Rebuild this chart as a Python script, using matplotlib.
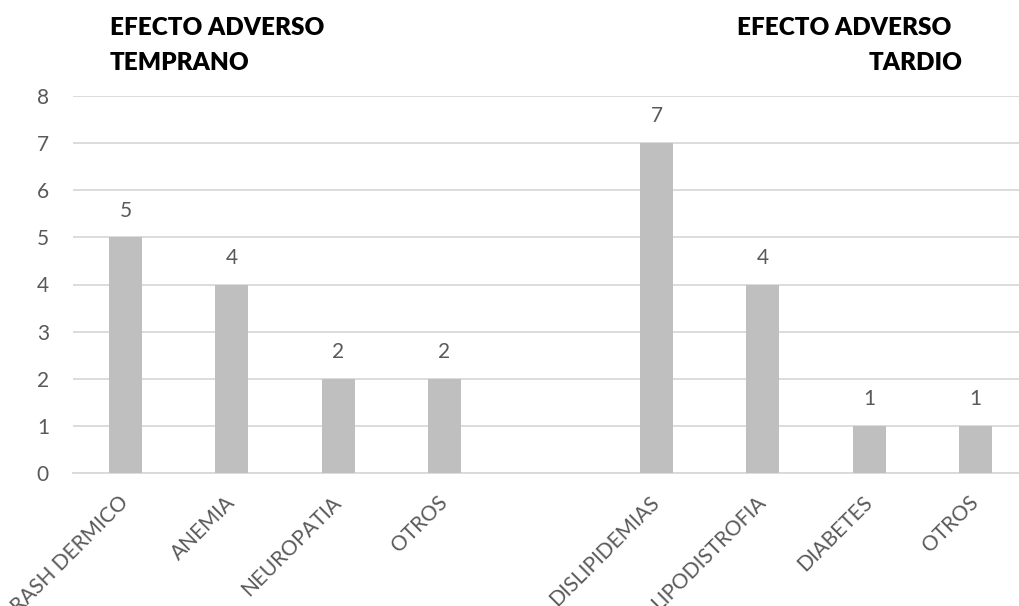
import matplotlib.pyplot as plt
import numpy as np

plt.rcParams['font.family'] = ['Lato', 'DejaVu Sans']

temprano_labels = ["RASH DERMICO", "ANEMIA", "NEUROPATIA", "OTROS"]
temprano_values = [5, 4, 2, 2]
tardio_labels = ["DISLIPIDEMIAS", "LIPODISTROFIA", "DIABETES", "OTROS"]
tardio_values = [7, 4, 1, 1]

bar_color = "#BFBFBF"
grid_color = "#D9D9D9"
text_color = "#595959"

# one empty slot between the two groups
x_temp = np.arange(len(temprano_values))
x_tard = np.arange(len(tardio_values)) + len(temprano_values) + 1
x_all = np.r_[x_temp, x_tard]
labels_all = temprano_labels + tardio_labels
values_all = temprano_values + tardio_values

fig = plt.figure(figsize=(10.19, 6.06), dpi=100)
ax = fig.add_axes([72.6 / 1019, 1 - 473 / 606, 955.8 / 1019, (473 - 96) / 606])

ax.bar(x_all, values_all, width=0.31, color=bar_color, zorder=3)
for x, v in zip(x_all, values_all):
    ax.annotate(str(v), (x, v), xytext=(0, 12), textcoords="offset points",
                ha="center", va="bottom", fontsize=15, color=text_color)

ax.set_xlim(-0.5, x_all[-1] + 0.5)
ax.set_ylim(0, 8)
ax.set_yticks(range(0, 9))
ax.yaxis.grid(True, color=grid_color, linewidth=1.3, zorder=0)
ax.set_axisbelow(True)
for s in ["left", "right", "top"]:
    ax.spines[s].set_visible(False)
ax.spines["bottom"].set_color(grid_color)
ax.spines["bottom"].set_linewidth(1.3)
ax.tick_params(axis="both", length=0, labelsize=15, labelcolor=text_color)
ax.tick_params(axis="y", pad=17)
ax.set_xticks(x_all)
ax.set_xticklabels(labels_all, rotation=45, ha="right", va="center",
                   rotation_mode="anchor")
ax.tick_params(axis="x", pad=19)

title_kw = dict(fontsize=17.5, fontweight="heavy", color="black")
fig.text(110 / 1019, 1 - 35 / 606, "EFECTO ADVERSO", **title_kw)
fig.text(110 / 1019, 1 - 70 / 606, "TEMPRANO", **title_kw)
fig.text(737 / 1019, 1 - 35 / 606, "EFECTO ADVERSO", **title_kw)
fig.text(963 / 1019, 1 - 70 / 606, "TARDIO", ha="right", **title_kw)

fig.savefig("out.png", dpi=100)
